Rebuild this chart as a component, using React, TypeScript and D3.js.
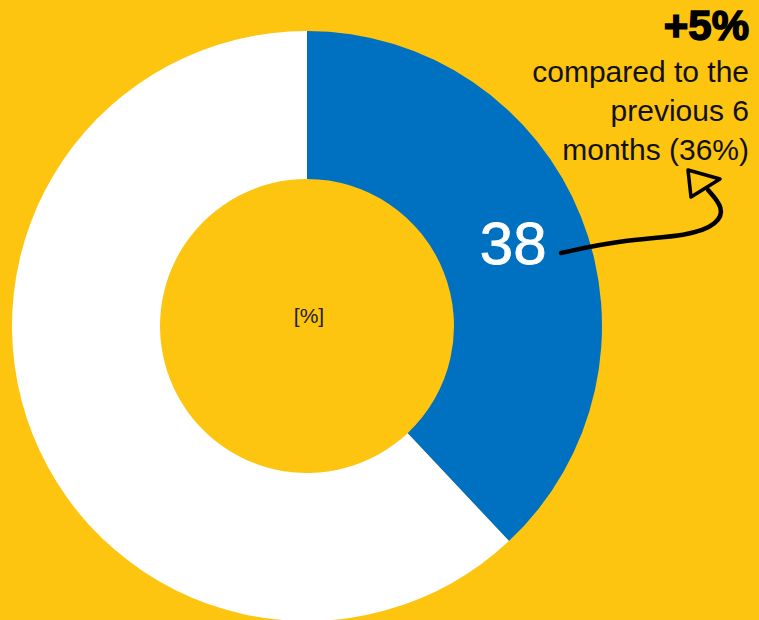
import React from "react";
import * as d3 from "d3";

const categories = ["Share", "Rest"];
const values = [38, 62];
const sliceColors = ["#0070C0", "#FFFFFF"];
const headline = "+5%";
const noteLines = ["compared to the", "previous 6", "months (36%)"];
const unitLabel = "[%]";

const W = 759;
const H = 620;

export default function App() {
  const cx = 307;
  const cy = 326;
  const outerR = 295;
  const innerR = 147;
  const pie = d3.pie<number>().sort(null).value((d) => d)(values);
  const arc = d3.arc<d3.PieArcDatum<number>>().innerRadius(innerR).outerRadius(outerR);
  const a0 = pie[0];
  const mid = (a0.startAngle + a0.endAngle) / 2;
  const lr = 225;
  const lx = cx + Math.sin(mid) * lr;
  const ly = cy - Math.cos(mid) * lr;

  const line = d3.line().curve(d3.curveBasis);
  const arrowPts: [number, number][] = [
    [561, 253],
    [620, 240],
    [690, 236],
    [718, 224],
    [724, 208],
    [708, 190],
  ];

  return (
    <div style={{ position: "fixed", left: 0, top: 0, width: W, height: H }}>
      <svg width={W} height={H} style={{ display: "block", background: "#FDC50F" }}>
        <rect x={0} y={0} width={W} height={H} fill="#FDC50F" />
        <g transform={`translate(${cx},${cy})`}>
          {pie.map((p, i) => (
            <path key={categories[i]} d={arc(p) || ""} fill={sliceColors[i]} />
          ))}
        </g>
        <text
          x={lx - 3}
          y={ly + 21}
          textAnchor="middle"
          fill="#FFFFFF"
          stroke="#FFFFFF"
          strokeWidth={0.8}
          fontFamily="Liberation Sans, Arial, sans-serif"
          fontSize={60}
        >
          {values[0]}
        </text>
        <text
          x={cx + 2}
          y={cy - 3}
          textAnchor="middle"
          fill="#222"
          fontFamily="Liberation Sans, Arial, sans-serif"
          fontSize={21}
        >
          {unitLabel}
        </text>
        <text
          x={749}
          y={40}
          textAnchor="end"
          fill="#000"
          stroke="#000"
          strokeWidth={1.5}
          fontFamily="Liberation Sans, Arial, sans-serif"
          fontWeight="bold"
          fontSize={42}
        >
          {headline}
        </text>
        {noteLines.map((t, i) => (
          <text
            key={t}
            x={749}
            y={82 + i * 39}
            textAnchor="end"
            fill="#111"
            fontFamily="Liberation Sans, Arial, sans-serif"
            fontSize={30}
          >
            {t}
          </text>
        ))}
        <path
          d={line(arrowPts) || ""}
          fill="none"
          stroke="#000"
          strokeWidth={4.5}
          strokeLinecap="round"
        />
        <path
          d="M688,170 L720,179 L691,197 Z"
          fill="none"
          stroke="#000"
          strokeWidth={3.5}
          strokeLinejoin="round"
        />
      </svg>
    </div>
  );
}
